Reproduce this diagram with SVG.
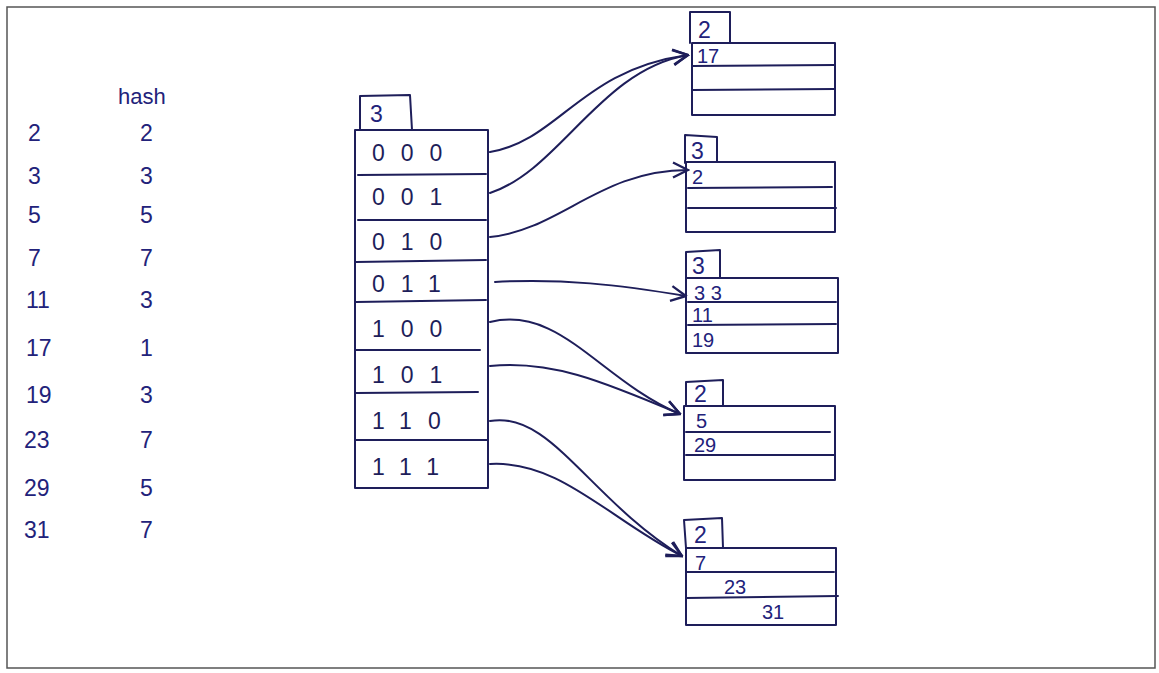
<svg xmlns="http://www.w3.org/2000/svg" width="1159" height="673" viewBox="0 0 1159 673">
<style>
.ink{fill:none;stroke:#1e1e5a;stroke-width:2;stroke-linecap:round;stroke-linejoin:round}
.t{font-family:"Liberation Sans",Arial,sans-serif;font-size:23px;fill:#22227a}
.d{font-family:"Liberation Sans",Arial,sans-serif;font-size:23px;fill:#1e1e5a;letter-spacing:16px}
.s{font-family:"Liberation Sans",Arial,sans-serif;font-size:20px;fill:#22227a}
</style>
<defs>
<marker id="ah" viewBox="0 0 12 12" refX="11" refY="6" markerWidth="18" markerHeight="18" markerUnits="userSpaceOnUse" orient="auto">
<path d="M1,1 L11,6 L1,11" fill="none" stroke="#1e1e5a" stroke-width="1.6"/>
</marker>
</defs>
<rect x="0" y="0" width="1159" height="673" fill="#ffffff"/>
<rect x="7" y="7" width="1148" height="661" fill="none" stroke="#555" stroke-width="1.5"/>

<g id="hash-table">
<text class="t" x="118" y="104" style="font-size:22px">hash</text>
<text class="t" x="28" y="141">2</text><text class="t" x="140" y="141">2</text>
<text class="t" x="28" y="184">3</text><text class="t" x="140" y="184">3</text>
<text class="t" x="28" y="223">5</text><text class="t" x="140" y="223">5</text>
<text class="t" x="28" y="266">7</text><text class="t" x="140" y="266">7</text>
<text class="t" x="26" y="308">11</text><text class="t" x="140" y="308">3</text>
<text class="t" x="26" y="356">17</text><text class="t" x="140" y="356">1</text>
<text class="t" x="26" y="403">19</text><text class="t" x="140" y="403">3</text>
<text class="t" x="24" y="448">23</text><text class="t" x="140" y="448">7</text>
<text class="t" x="24" y="496">29</text><text class="t" x="140" y="496">5</text>
<text class="t" x="24" y="538">31</text><text class="t" x="140" y="538">7</text>
</g>

<g id="directory">
<path class="ink" d="M360,130 L360,96 L410,95 L412,130"/>
<text class="t" x="370" y="122">3</text>
<rect class="ink" x="355" y="130" width="133" height="358"/>
<path class="ink" d="M358,175 L486,174 M358,220 L486,220 M356,262 L486,260 M356,302 L486,300 M356,350 L480,350 M356,393 L478,392 M355,440 L488,440"/>
<text class="d" x="372" y="161">000</text>
<text class="d" x="372" y="205">001</text>
<text class="d" x="372" y="250">010</text>
<text class="d" x="372" y="292">011</text>
<text class="d" x="372" y="337">100</text>
<text class="d" x="372" y="383">101</text>
<text class="d" x="372" y="429">110</text>
<text class="d" x="372" y="475">111</text>
</g>

<g id="bucket1">
<path class="ink" d="M690,43 L690,12 L730,12 L730,42"/>
<text class="t" x="698" y="38">2</text>
<rect class="ink" x="692" y="43" width="143" height="72"/>
<path class="ink" d="M692,66 L835,65 M692,90 L835,89"/>
<text class="s" x="697" y="63">17</text>
</g>

<g id="bucket2">
<path class="ink" d="M685,163 L685,135 L717,137 L717,162"/>
<text class="t" x="691" y="159">3</text>
<rect class="ink" x="686" y="162" width="149" height="70"/>
<path class="ink" d="M688,188 L832,187 M688,208 L836,208"/>
<text class="s" x="692" y="184">2</text>
</g>

<g id="bucket3">
<path class="ink" d="M686,278 L686,252 L720,250 L720,278"/>
<text class="t" x="692" y="274">3</text>
<rect class="ink" x="686" y="278" width="152" height="75"/>
<path class="ink" d="M688,302 L836,302 M688,325 L836,324"/>
<text class="s" x="694" y="300">3 3</text>
<text class="s" x="692" y="322">11</text>
<text class="s" x="692" y="347">19</text>
</g>

<g id="bucket4">
<path class="ink" d="M686,406 L686,382 L723,380 L723,406"/>
<text class="t" x="694" y="402">2</text>
<rect class="ink" x="684" y="406" width="151" height="74"/>
<path class="ink" d="M686,432 L830,432 M686,455 L834,455"/>
<text class="s" x="696" y="428">5</text>
<text class="s" x="694" y="452">29</text>
</g>

<g id="bucket5">
<path class="ink" d="M686,548 L684,520 L722,518 L723,548"/>
<text class="t" x="694" y="543">2</text>
<rect class="ink" x="686" y="548" width="150" height="77"/>
<path class="ink" d="M686,572 L834,572 M686,598 L838,596"/>
<text class="s" x="695" y="570">7</text>
<text class="s" x="724" y="594">23</text>
<text class="s" x="762" y="619">31</text>
</g>

<g id="connectors">
<path class="ink" marker-end="url(#ah)" d="M490,152 C560,140 580,70 688,55"/>
<path class="ink" marker-end="url(#ah)" d="M490,193 C560,170 600,70 688,55"/>
<path class="ink" marker-end="url(#ah)" d="M490,237 C560,230 600,170 688,170"/>
<path class="ink" marker-end="url(#ah)" d="M495,282 C560,278 620,285 686,296"/>
<path class="ink" marker-end="url(#ah)" d="M490,322 C560,305 600,380 680,414"/>
<path class="ink" marker-end="url(#ah)" d="M490,366 C550,360 600,380 680,414"/>
<path class="ink" marker-end="url(#ah)" d="M490,421 C550,410 590,500 682,556"/>
<path class="ink" marker-end="url(#ah)" d="M490,464 C560,460 610,520 682,556"/>
</g>
</svg>
